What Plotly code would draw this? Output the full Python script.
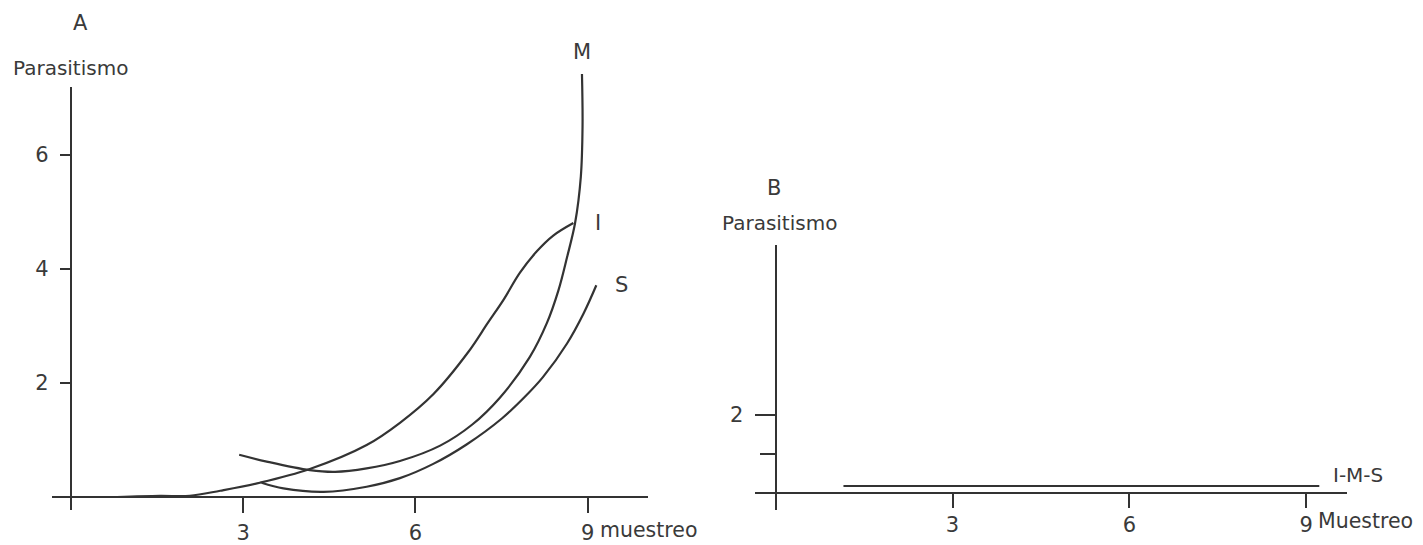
import plotly.graph_objects as go

W, H = 1423, 545

# ---------------- data ----------------
# Panel A : parasitismo vs muestreo for three curves
a_I_x = [0.80, 1.55, 2.07, 2.60, 3.29, 4.16, 5.15, 5.73, 6.31, 6.92, 7.26, 7.53, 7.82, 8.11, 8.40, 8.75]
a_I_y = [0.00, 0.02, 0.02, 0.11, 0.25, 0.49, 0.91, 1.30, 1.80, 2.54, 3.05, 3.45, 3.93, 4.30, 4.58, 4.80]

a_M_x = [2.93, 3.41, 4.16, 4.60, 5.15, 5.73, 6.43, 6.99, 7.47, 7.99, 8.29, 8.49, 8.64, 8.78, 8.88, 8.91, 8.90]
a_M_y = [0.74, 0.62, 0.47, 0.44, 0.50, 0.63, 0.90, 1.27, 1.74, 2.45, 3.05, 3.62, 4.20, 4.80, 5.61, 6.49, 7.41]

a_S_x = [3.32, 3.70, 4.40, 5.15, 5.73, 6.31, 6.89, 7.51, 7.91, 8.22, 8.64, 8.93, 9.15]
a_S_y = [0.25, 0.15, 0.09, 0.18, 0.33, 0.58, 0.92, 1.38, 1.76, 2.10, 2.69, 3.22, 3.71]

# Panel B : I-M-S together
b_IMS_x = [1.15, 9.22]
b_IMS_y = [0.18, 0.18]

a_xticks = [3, 6, 9]
a_xticktext = ["3", "6", "9"]
a_yticks = [2, 4, 6]
a_yticktext = ["2", "4", "6"]
b_xticks = [3, 6, 9]
b_xticktext = ["3", "6", "9"]
b_yticks = [2]
b_yticktext = ["2"]
b_yminor = [1]

# ---------------- styling ----------------
INK = "#333333"
TXT = "#3a3a3a"
FONT = "DejaVu Sans"
FS_TICK = 21
FS_WORD = 20
FS_LETTER = 21
LW = 2.2


def px_x(p):
    return p / W


def px_y(p):
    return 1 - p / H


# pixel scale of panel A's vertical axis (57.07 px per unit)
A_Y0, A_Y_LOW, A_PPU = 510, -0.228, 57.07
A_AXIS_TOP = 87      # where the drawn y axis stops
A_PLOT_TOP = 60      # plotting area reaches a bit higher (curve M passes the axis top)

fig = go.Figure()

line = dict(color=INK, width=LW, shape="spline", smoothing=1.0)
fig.add_trace(go.Scatter(x=a_I_x, y=a_I_y, mode="lines", line=line, name="I",
                         xaxis="x", yaxis="y"))
fig.add_trace(go.Scatter(x=a_M_x, y=a_M_y, mode="lines", line=line, name="M",
                         xaxis="x", yaxis="y"))
fig.add_trace(go.Scatter(x=a_S_x, y=a_S_y, mode="lines", line=line, name="S",
                         xaxis="x", yaxis="y"))
# empty trace so that the visible axis of panel A is drawn
fig.add_trace(go.Scatter(x=[], y=[], mode="lines", xaxis="x", yaxis="y3",
                         hoverinfo="skip"))
fig.add_trace(go.Scatter(x=b_IMS_x, y=b_IMS_y, mode="lines",
                         line=dict(color=INK, width=LW), name="I-M-S",
                         xaxis="x2", yaxis="y2"))

axis_common = dict(showgrid=False, zeroline=False, showline=True,
                   linecolor=INK, linewidth=LW, ticks="outside",
                   tickcolor=INK, tickwidth=LW,
                   tickfont=dict(family=FONT, size=FS_TICK, color=TXT),
                   fixedrange=True)

fig.update_layout(
    width=W, height=H,
    margin=dict(l=0, r=0, t=0, b=0),
    paper_bgcolor="white", plot_bgcolor="rgba(0,0,0,0)",
    showlegend=False,
    font=dict(family=FONT, size=FS_WORD, color=TXT),
    xaxis=dict(axis_common, domain=[px_x(52), px_x(648)], range=[-0.33, 10.05],
               anchor="free", position=px_y(497),
               tickvals=a_xticks, ticktext=a_xticktext, ticklen=15,
               ticklabelstandoff=2),
    # hidden axis carrying the curves (taller plotting area, same scale)
    yaxis=dict(domain=[px_y(A_Y0), px_y(A_PLOT_TOP)],
               range=[A_Y_LOW, A_Y_LOW + (A_Y0 - A_PLOT_TOP) / A_PPU],
               visible=False, fixedrange=True, anchor="x"),
    # visible axis of panel A
    yaxis3=dict(axis_common, domain=[px_y(A_Y0), px_y(A_AXIS_TOP)],
                range=[A_Y_LOW, A_Y_LOW + (A_Y0 - A_AXIS_TOP) / A_PPU],
                anchor="free", position=px_x(71),
                tickvals=a_yticks, ticktext=a_yticktext, ticklen=10,
                ticklabelstandoff=7),
    xaxis2=dict(axis_common, domain=[px_x(755), px_x(1347)], range=[-0.35, 9.69],
                anchor="free", position=px_y(493),
                tickvals=b_xticks, ticktext=b_xticktext, ticklen=14,
                ticklabelstandoff=-1),
    yaxis2=dict(axis_common, domain=[px_y(510), px_y(245)], range=[-0.436, 6.36],
                anchor="free", position=px_x(775.7),
                tickvals=b_yticks, ticktext=b_yticktext, ticklen=20,
                ticklabelstandoff=7,
                minor=dict(tickvals=b_yminor, ticklen=15, tickwidth=LW,
                           tickcolor=INK, ticks="outside", showgrid=False)),
)

word_font = dict(family=FONT, size=FS_WORD, color=TXT)
letter_font = dict(family=FONT, size=FS_LETTER, color=TXT)
axis_word_font = dict(family=FONT, size=20.5, color=TXT)
annotations = [
    # panel letters and axis captions
    dict(text="A", xref="paper", yref="paper", x=px_x(80), y=px_y(23),
         xanchor="center", yanchor="middle", showarrow=False, font=letter_font),
    dict(text="Parasitismo", xref="paper", yref="paper", x=px_x(70), y=px_y(68),
         xanchor="center", yanchor="middle", showarrow=False, font=word_font),
    dict(text="muestreo", xref="x", yref="paper", x=9, y=px_y(530),
         xanchor="left", yanchor="middle", xshift=10, showarrow=False, font=axis_word_font),
    dict(text="B", xref="paper", yref="paper", x=px_x(774), y=px_y(188),
         xanchor="center", yanchor="middle", showarrow=False, font=letter_font),
    dict(text="Parasitismo", xref="paper", yref="paper", x=px_x(779), y=px_y(223),
         xanchor="center", yanchor="middle", showarrow=False, font=word_font),
    dict(text="Muestreo", xref="x2", yref="paper", x=9, y=px_y(521),
         xanchor="left", yanchor="middle", xshift=10, showarrow=False, font=axis_word_font),
    # curve labels, tied to the curve ends
    dict(text="M", xref="x", yref="y", x=a_M_x[-1], y=a_M_y[-1],
         xanchor="center", yanchor="middle", yshift=22, showarrow=False, font=letter_font),
    dict(text="I", xref="x", yref="y", x=a_I_x[-1], y=a_I_y[-1],
         xanchor="center", yanchor="middle", xshift=25, showarrow=False, font=letter_font),
    dict(text="S", xref="x", yref="y", x=a_S_x[-1], y=a_S_y[-1],
         xanchor="center", yanchor="middle", xshift=25, showarrow=False, font=letter_font),
    dict(text="I-M-S", xref="x2", yref="y2", x=b_IMS_x[-1], y=b_IMS_y[-1],
         xanchor="left", yanchor="middle", xshift=12, yshift=11, showarrow=False,
         font=word_font),
]
fig.update_layout(annotations=annotations)

fig.write_html(
    "out.html",
    config={"displayModeBar": False},
    post_script="document.body.style.margin='0';"
                "document.documentElement.style.overflow='hidden';",
)
